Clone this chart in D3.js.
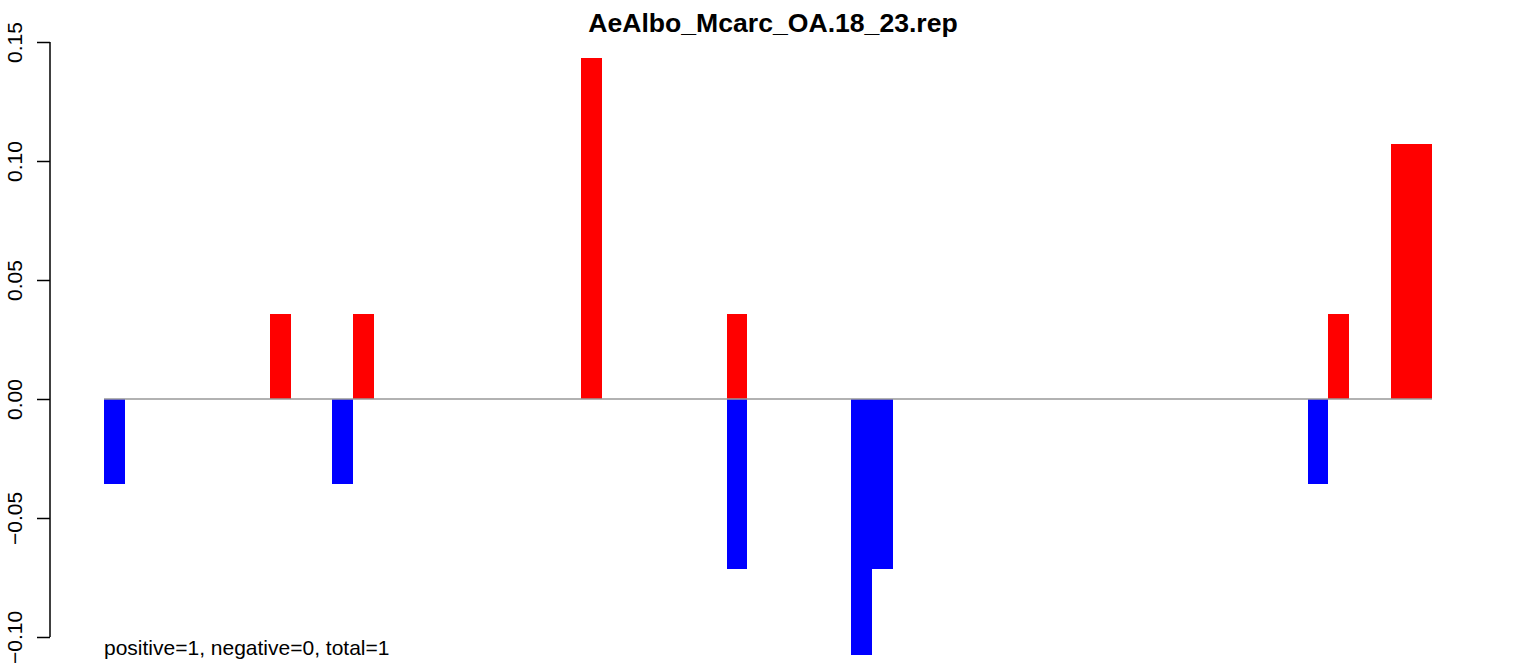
<!DOCTYPE html>
<html>
<head>
<meta charset="utf-8">
<script src="https://cdn.jsdelivr.net/npm/d3@7"></script>
<style>
  html, body { margin: 0; padding: 0; background: #fff; }
  svg { display: block; font-family: "Liberation Sans", Arial, sans-serif; }
</style>
</head>
<body>
<svg id="chart" width="1533" height="666"></svg>
<script>
// ---- data ----
const title = "AeAlbo_Mcarc_OA.18_23.rep";
const note = "positive=1, negative=0, total=1";
const nBins = 64;
// positive (red) values by bin index
const positiveBins =   [8,      12,     23,     30,     59,     62,     63];
const positiveValues = [0.0357, 0.0357, 0.1432, 0.0357, 0.0357, 0.1072, 0.1072];
// negative (blue) values by bin index
const negativeBins =   [0,       11,      30,      36,      37,      58];
const negativeValues = [-0.0357, -0.0357, -0.0716, -0.1075, -0.0716, -0.0357];
const yTicks = [-0.10, -0.05, 0.00, 0.05, 0.10, 0.15];
const yTickLabels = ["\u22120.10", "\u22120.05", "0.00", "0.05", "0.10", "0.15"];

// ---- layout ----
const svg = d3.select("#chart");
const x = d3.scaleLinear().domain([0, nBins]).range([104, 1432]);
const y = d3.scaleLinear().domain([-0.10, 0.15]).range([637, 42]);

const pos = positiveBins.map((b, i) => ({bin: b, v: positiveValues[i]}));
const neg = negativeBins.map((b, i) => ({bin: b, v: negativeValues[i]}));

const bars = svg.append("g").attr("shape-rendering", "crispEdges");
bars.selectAll("rect.pos").data(pos).join("rect")
  .attr("class", "pos")
  .attr("x", d => x(d.bin))
  .attr("width", d => x(d.bin + 1) - x(d.bin))
  .attr("y", d => y(d.v))
  .attr("height", d => y(0) - y(d.v))
  .attr("fill", "#ff0000");
bars.selectAll("rect.neg").data(neg).join("rect")
  .attr("class", "neg")
  .attr("x", d => x(d.bin))
  .attr("width", d => x(d.bin + 1) - x(d.bin))
  .attr("y", y(0))
  .attr("height", d => y(d.v) - y(0))
  .attr("fill", "#0000ff");

// zero line
svg.append("line")
  .attr("x1", x(0)).attr("x2", x(nBins))
  .attr("y1", y(0)).attr("y2", y(0))
  .attr("stroke", "#999").attr("stroke-width", 1.5);

// y axis
const axis = d3.axisLeft(y).tickValues(yTicks).tickSize(13)
  .tickFormat((d, i) => yTickLabels[i]);
const ag = svg.append("g").attr("transform", "translate(50,0)").call(axis);
ag.select(".domain").attr("d", `M0,${y(0.15)}V${y(-0.10)}`)
  .attr("stroke", "#000").attr("stroke-width", 1.5).attr("fill", "none");
ag.selectAll(".tick line").attr("stroke", "#000").attr("stroke-width", 1.5);
ag.selectAll(".tick text")
  .attr("font-size", 21)
  .attr("font-family", "Liberation Sans, Arial, sans-serif")
  .attr("fill", "#000")
  .attr("x", null).attr("dy", null)
  .attr("text-anchor", "middle")
  .attr("transform", "translate(-28,0) rotate(-90)");

// title
svg.append("text")
  .attr("x", 773).attr("y", 32)
  .attr("text-anchor", "middle")
  .attr("font-size", 26.6)
  .attr("font-weight", "bold")
  .text(title);

// note
svg.append("text")
  .attr("x", 104).attr("y", 655)
  .attr("font-size", 21)
  .text(note);
</script>
</body>
</html>
